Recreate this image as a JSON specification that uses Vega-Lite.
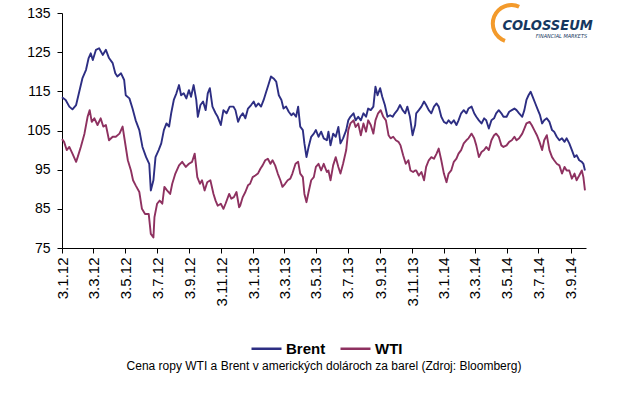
{
  "$schema": "https://vega.github.io/schema/vega-lite/v6.json",
  "width": 524,
  "height": 235,
  "autosize": {"type": "none"},
  "padding": {"left": 62, "top": 13, "right": 34, "bottom": 151},
  "background": "white",
  "config": {"view": {"stroke": null}, "font": "Liberation Sans"},
  "title": {"text": "Cena ropy WTI a Brent v amerických dolároch za barel (Zdroj: Bloomberg)", "orient": "bottom", "anchor": "middle", "frame": "group", "fontSize": 12, "fontWeight": "normal", "font": "Liberation Sans", "color": "#000000", "offset": 4},
  "datasets": {
    "prices": [
      {"series":"Brent","date":"2012-01-03","price":113.5},{"series":"Brent","date":"2012-01-10","price":112.8},{"series":"Brent","date":"2012-01-17","price":111.1},{"series":"Brent","date":"2012-01-23","price":110.4},{"series":"Brent","date":"2012-01-30","price":111.5},{"series":"Brent","date":"2012-02-05","price":114.9},{"series":"Brent","date":"2012-02-11","price":118.3},{"series":"Brent","date":"2012-02-18","price":120.5},{"series":"Brent","date":"2012-02-23","price":123.5},{"series":"Brent","date":"2012-02-27","price":124.7},{"series":"Brent","date":"2012-03-02","price":123},{"series":"Brent","date":"2012-03-08","price":125.6},{"series":"Brent","date":"2012-03-14","price":126},{"series":"Brent","date":"2012-03-21","price":124.3},{"series":"Brent","date":"2012-03-27","price":125.6},{"series":"Brent","date":"2012-04-02","price":123.5},{"series":"Brent","date":"2012-04-09","price":122.2},{"series":"Brent","date":"2012-04-14","price":119.6},{"series":"Brent","date":"2012-04-18","price":118.8},{"series":"Brent","date":"2012-04-25","price":119.6},{"series":"Brent","date":"2012-05-01","price":117.9},{"series":"Brent","date":"2012-05-04","price":114},{"series":"Brent","date":"2012-05-11","price":113.2},{"series":"Brent","date":"2012-05-17","price":110.6},{"series":"Brent","date":"2012-05-23","price":107.6},{"series":"Brent","date":"2012-05-30","price":105.1},{"series":"Brent","date":"2012-06-05","price":100.8},{"series":"Brent","date":"2012-06-12","price":98.2},{"series":"Brent","date":"2012-06-18","price":96.5},
      {"series":"Brent","date":"2012-06-21","price":89.7},{"series":"Brent","date":"2012-06-26","price":92.3},{"series":"Brent","date":"2012-06-30","price":98.2},{"series":"Brent","date":"2012-07-06","price":100},{"series":"Brent","date":"2012-07-11","price":101.7},{"series":"Brent","date":"2012-07-16","price":105.1},{"series":"Brent","date":"2012-07-21","price":106.8},{"series":"Brent","date":"2012-07-26","price":106},{"series":"Brent","date":"2012-07-30","price":109.4},{"series":"Brent","date":"2012-08-04","price":112.8},{"series":"Brent","date":"2012-08-09","price":114.5},{"series":"Brent","date":"2012-08-14","price":116.6},{"series":"Brent","date":"2012-08-18","price":114},{"series":"Brent","date":"2012-08-23","price":114.5},{"series":"Brent","date":"2012-08-28","price":113.2},{"series":"Brent","date":"2012-09-02","price":115.3},{"series":"Brent","date":"2012-09-06","price":113.6},{"series":"Brent","date":"2012-09-11","price":116.6},{"series":"Brent","date":"2012-09-16","price":112.8},{"series":"Brent","date":"2012-09-19","price":108.5},{"series":"Brent","date":"2012-09-24","price":111.5},{"series":"Brent","date":"2012-09-29","price":112.4},{"series":"Brent","date":"2012-10-04","price":110.2},{"series":"Brent","date":"2012-10-08","price":114.5},{"series":"Brent","date":"2012-10-12","price":115.8},{"series":"Brent","date":"2012-10-17","price":111.1},{"series":"Brent","date":"2012-10-23","price":109.4},{"series":"Brent","date":"2012-10-27","price":108.5},{"series":"Brent","date":"2012-11-02","price":106.4},{"series":"Brent","date":"2012-11-07","price":110.2},{"series":"Brent","date":"2012-11-13","price":109.4},{"series":"Brent","date":"2012-11-19","price":111.1},{"series":"Brent","date":"2012-11-26","price":111.1},{"series":"Brent","date":"2012-11-30","price":110.2},{"series":"Brent","date":"2012-12-05","price":107.2},
      {"series":"Brent","date":"2012-12-09","price":108.5},{"series":"Brent","date":"2012-12-14","price":109.4},{"series":"Brent","date":"2012-12-19","price":108.1},{"series":"Brent","date":"2012-12-24","price":110.6},{"series":"Brent","date":"2012-12-30","price":111.5},{"series":"Brent","date":"2013-01-04","price":112.4},{"series":"Brent","date":"2013-01-08","price":111.1},{"series":"Brent","date":"2013-01-13","price":111.9},{"series":"Brent","date":"2013-01-18","price":111.1},{"series":"Brent","date":"2013-01-23","price":112.8},{"series":"Brent","date":"2013-01-27","price":114.5},{"series":"Brent","date":"2013-02-01","price":116.6},{"series":"Brent","date":"2013-02-06","price":118.8},{"series":"Brent","date":"2013-02-11","price":118.3},{"series":"Brent","date":"2013-02-16","price":117.5},{"series":"Brent","date":"2013-02-21","price":114},{"series":"Brent","date":"2013-02-26","price":112.8},{"series":"Brent","date":"2013-03-02","price":110.6},{"series":"Brent","date":"2013-03-07","price":111.1},{"series":"Brent","date":"2013-03-12","price":109.8},{"series":"Brent","date":"2013-03-17","price":108.9},{"series":"Brent","date":"2013-03-21","price":109.4},{"series":"Brent","date":"2013-03-26","price":108.5},{"series":"Brent","date":"2013-03-30","price":111.1},{"series":"Brent","date":"2013-04-03","price":106},{"series":"Brent","date":"2013-04-08","price":105.1},{"series":"Brent","date":"2013-04-11","price":101.7},{"series":"Brent","date":"2013-04-15","price":98.2},{"series":"Brent","date":"2013-04-19","price":100.8},{"series":"Brent","date":"2013-04-24","price":103.4},{"series":"Brent","date":"2013-04-29","price":104.2},{"series":"Brent","date":"2013-05-03","price":105.1},{"series":"Brent","date":"2013-05-08","price":103.4},{"series":"Brent","date":"2013-05-13","price":104.7},{"series":"Brent","date":"2013-05-18","price":103},{"series":"Brent","date":"2013-05-24","price":102.5},
      {"series":"Brent","date":"2013-05-27","price":104.7},{"series":"Brent","date":"2013-05-31","price":101.2},{"series":"Brent","date":"2013-06-05","price":104.2},{"series":"Brent","date":"2013-06-10","price":103.4},{"series":"Brent","date":"2013-06-15","price":105.9},{"series":"Brent","date":"2013-06-19","price":101.7},{"series":"Brent","date":"2013-06-24","price":103},{"series":"Brent","date":"2013-06-30","price":105.1},{"series":"Brent","date":"2013-07-04","price":107.6},{"series":"Brent","date":"2013-07-08","price":108.5},{"series":"Brent","date":"2013-07-14","price":109.4},{"series":"Brent","date":"2013-07-18","price":107.6},{"series":"Brent","date":"2013-07-23","price":108.5},{"series":"Brent","date":"2013-07-28","price":107.6},{"series":"Brent","date":"2013-08-02","price":109.4},{"series":"Brent","date":"2013-08-07","price":108.5},{"series":"Brent","date":"2013-08-11","price":110.6},{"series":"Brent","date":"2013-08-16","price":110.2},{"series":"Brent","date":"2013-08-21","price":111.1},{"series":"Brent","date":"2013-08-25","price":116.2},{"series":"Brent","date":"2013-08-29","price":114},{"series":"Brent","date":"2013-09-03","price":115.8},{"series":"Brent","date":"2013-09-07","price":113.6},{"series":"Brent","date":"2013-09-12","price":111.5},{"series":"Brent","date":"2013-09-17","price":108.5},{"series":"Brent","date":"2013-09-22","price":108.9},{"series":"Brent","date":"2013-09-27","price":108.5},{"series":"Brent","date":"2013-10-01","price":109.4},{"series":"Brent","date":"2013-10-06","price":110.2},{"series":"Brent","date":"2013-10-11","price":111.5},{"series":"Brent","date":"2013-10-16","price":110.2},{"series":"Brent","date":"2013-10-21","price":109.4},{"series":"Brent","date":"2013-10-25","price":111.1},{"series":"Brent","date":"2013-10-30","price":108.5},{"series":"Brent","date":"2013-11-04","price":103.8},{"series":"Brent","date":"2013-11-09","price":106.4},
      {"series":"Brent","date":"2013-11-11","price":109.4},{"series":"Brent","date":"2013-11-16","price":110.2},{"series":"Brent","date":"2013-11-21","price":111.1},{"series":"Brent","date":"2013-11-26","price":112.4},{"series":"Brent","date":"2013-11-30","price":111.5},{"series":"Brent","date":"2013-12-05","price":110.2},{"series":"Brent","date":"2013-12-10","price":109.4},{"series":"Brent","date":"2013-12-15","price":111.1},{"series":"Brent","date":"2013-12-20","price":111.9},{"series":"Brent","date":"2013-12-24","price":111.1},{"series":"Brent","date":"2013-12-29","price":108.5},{"series":"Brent","date":"2014-01-03","price":107.2},{"series":"Brent","date":"2014-01-08","price":106.8},{"series":"Brent","date":"2014-01-12","price":107.6},{"series":"Brent","date":"2014-01-17","price":106.8},{"series":"Brent","date":"2014-01-22","price":107.6},{"series":"Brent","date":"2014-01-27","price":106.4},{"series":"Brent","date":"2014-01-31","price":107.6},{"series":"Brent","date":"2014-02-05","price":109.4},{"series":"Brent","date":"2014-02-10","price":110.2},{"series":"Brent","date":"2014-02-15","price":109.4},{"series":"Brent","date":"2014-02-19","price":110.6},{"series":"Brent","date":"2014-02-25","price":111.1},{"series":"Brent","date":"2014-03-02","price":109.4},{"series":"Brent","date":"2014-03-06","price":108.5},{"series":"Brent","date":"2014-03-11","price":107.6},{"series":"Brent","date":"2014-03-16","price":106.8},{"series":"Brent","date":"2014-03-21","price":108.1},{"series":"Brent","date":"2014-03-25","price":107.6},{"series":"Brent","date":"2014-03-30","price":105.5},{"series":"Brent","date":"2014-04-04","price":107.6},{"series":"Brent","date":"2014-04-09","price":108.1},{"series":"Brent","date":"2014-04-13","price":109.4},{"series":"Brent","date":"2014-04-18","price":110.2},{"series":"Brent","date":"2014-04-23","price":109.4},{"series":"Brent","date":"2014-04-27","price":108.5},
      {"series":"Brent","date":"2014-05-03","price":108.5},{"series":"Brent","date":"2014-05-08","price":109.8},{"series":"Brent","date":"2014-05-13","price":110.2},{"series":"Brent","date":"2014-05-18","price":110.6},{"series":"Brent","date":"2014-05-22","price":110.2},{"series":"Brent","date":"2014-05-27","price":109.4},{"series":"Brent","date":"2014-06-02","price":108.5},{"series":"Brent","date":"2014-06-06","price":110.2},{"series":"Brent","date":"2014-06-10","price":112.8},{"series":"Brent","date":"2014-06-14","price":114},{"series":"Brent","date":"2014-06-18","price":114.9},{"series":"Brent","date":"2014-06-22","price":113.6},{"series":"Brent","date":"2014-06-27","price":111.9},{"series":"Brent","date":"2014-07-02","price":110.2},{"series":"Brent","date":"2014-07-06","price":108.9},{"series":"Brent","date":"2014-07-10","price":106.8},{"series":"Brent","date":"2014-07-14","price":107.6},{"series":"Brent","date":"2014-07-19","price":108.1},{"series":"Brent","date":"2014-07-24","price":107.2},{"series":"Brent","date":"2014-07-29","price":105.1},{"series":"Brent","date":"2014-08-02","price":104.7},{"series":"Brent","date":"2014-08-07","price":103.4},{"series":"Brent","date":"2014-08-12","price":102.5},{"series":"Brent","date":"2014-08-17","price":103},{"series":"Brent","date":"2014-08-22","price":102.1},{"series":"Brent","date":"2014-08-26","price":103},{"series":"Brent","date":"2014-08-31","price":101.7},{"series":"Brent","date":"2014-09-05","price":100},{"series":"Brent","date":"2014-09-10","price":98.2},{"series":"Brent","date":"2014-09-14","price":98.7},{"series":"Brent","date":"2014-09-19","price":97.4},{"series":"Brent","date":"2014-09-24","price":97},{"series":"Brent","date":"2014-09-27","price":96.5},{"series":"Brent","date":"2014-09-30","price":94.8},
      {"series":"WTI","date":"2012-01-03","price":102.8},{"series":"WTI","date":"2012-01-07","price":102.1},{"series":"WTI","date":"2012-01-12","price":100},{"series":"WTI","date":"2012-01-17","price":100.8},{"series":"WTI","date":"2012-01-23","price":99.1},{"series":"WTI","date":"2012-01-30","price":97},{"series":"WTI","date":"2012-02-02","price":98.2},{"series":"WTI","date":"2012-02-08","price":100.8},{"series":"WTI","date":"2012-02-15","price":104.2},{"series":"WTI","date":"2012-02-21","price":108.5},{"series":"WTI","date":"2012-02-25","price":110.2},{"series":"WTI","date":"2012-02-29","price":107.2},{"series":"WTI","date":"2012-03-05","price":108.1},{"series":"WTI","date":"2012-03-11","price":106.4},{"series":"WTI","date":"2012-03-17","price":108.1},{"series":"WTI","date":"2012-03-22","price":106},{"series":"WTI","date":"2012-03-27","price":106.4},{"series":"WTI","date":"2012-04-02","price":102.5},{"series":"WTI","date":"2012-04-09","price":103.4},{"series":"WTI","date":"2012-04-15","price":103.4},{"series":"WTI","date":"2012-04-22","price":104.2},{"series":"WTI","date":"2012-04-28","price":106},{"series":"WTI","date":"2012-05-01","price":103.4},{"series":"WTI","date":"2012-05-08","price":97.4},{"series":"WTI","date":"2012-05-14","price":94.8},{"series":"WTI","date":"2012-05-18","price":92.3},{"series":"WTI","date":"2012-05-23","price":91},{"series":"WTI","date":"2012-05-30","price":89.3},{"series":"WTI","date":"2012-06-04","price":85},{"series":"WTI","date":"2012-06-10","price":83.7},{"series":"WTI","date":"2012-06-17","price":83.7},{"series":"WTI","date":"2012-06-21","price":78.6},
      {"series":"WTI","date":"2012-06-26","price":77.7},{"series":"WTI","date":"2012-06-28","price":82.9},{"series":"WTI","date":"2012-07-03","price":86.3},{"series":"WTI","date":"2012-07-08","price":87.1},{"series":"WTI","date":"2012-07-13","price":86.3},{"series":"WTI","date":"2012-07-17","price":90.6},{"series":"WTI","date":"2012-07-22","price":89.7},{"series":"WTI","date":"2012-07-28","price":88.8},{"series":"WTI","date":"2012-08-01","price":91.4},{"series":"WTI","date":"2012-08-07","price":94},{"series":"WTI","date":"2012-08-14","price":96.1},{"series":"WTI","date":"2012-08-20","price":97},{"series":"WTI","date":"2012-08-27","price":95.7},{"series":"WTI","date":"2012-09-02","price":96.5},{"series":"WTI","date":"2012-09-08","price":97},{"series":"WTI","date":"2012-09-13","price":99.1},{"series":"WTI","date":"2012-09-18","price":93.1},{"series":"WTI","date":"2012-09-23","price":91.4},{"series":"WTI","date":"2012-09-27","price":92.3},{"series":"WTI","date":"2012-10-02","price":89.7},{"series":"WTI","date":"2012-10-07","price":91.8},{"series":"WTI","date":"2012-10-13","price":92.3},{"series":"WTI","date":"2012-10-19","price":88.8},{"series":"WTI","date":"2012-10-23","price":87.1},{"series":"WTI","date":"2012-10-27","price":85.8},{"series":"WTI","date":"2012-11-02","price":86.3},{"series":"WTI","date":"2012-11-07","price":85},{"series":"WTI","date":"2012-11-11","price":86.3},{"series":"WTI","date":"2012-11-18","price":88.8},{"series":"WTI","date":"2012-11-22","price":87.6},{"series":"WTI","date":"2012-11-27","price":88},{"series":"WTI","date":"2012-12-02","price":89.3},{"series":"WTI","date":"2012-12-07","price":85.4},
      {"series":"WTI","date":"2012-12-09","price":85.8},{"series":"WTI","date":"2012-12-14","price":88},{"series":"WTI","date":"2012-12-19","price":89.3},{"series":"WTI","date":"2012-12-24","price":91},{"series":"WTI","date":"2012-12-28","price":91.4},{"series":"WTI","date":"2013-01-02","price":93.1},{"series":"WTI","date":"2013-01-07","price":93.5},{"series":"WTI","date":"2013-01-12","price":94},{"series":"WTI","date":"2013-01-17","price":95.3},{"series":"WTI","date":"2013-01-21","price":96.1},{"series":"WTI","date":"2013-01-26","price":97.4},{"series":"WTI","date":"2013-01-31","price":97.8},{"series":"WTI","date":"2013-02-05","price":96.5},{"series":"WTI","date":"2013-02-09","price":97.4},{"series":"WTI","date":"2013-02-14","price":96.1},{"series":"WTI","date":"2013-02-19","price":94},{"series":"WTI","date":"2013-02-24","price":92.3},{"series":"WTI","date":"2013-02-28","price":90.6},{"series":"WTI","date":"2013-03-05","price":91.4},{"series":"WTI","date":"2013-03-10","price":92.3},{"series":"WTI","date":"2013-03-15","price":92.7},{"series":"WTI","date":"2013-03-19","price":94},{"series":"WTI","date":"2013-03-25","price":96.5},{"series":"WTI","date":"2013-03-30","price":97},{"series":"WTI","date":"2013-04-03","price":94},{"series":"WTI","date":"2013-04-08","price":93.1},{"series":"WTI","date":"2013-04-11","price":88.8},{"series":"WTI","date":"2013-04-15","price":86.7},{"series":"WTI","date":"2013-04-19","price":89.3},{"series":"WTI","date":"2013-04-24","price":92.3},{"series":"WTI","date":"2013-04-29","price":93.1},{"series":"WTI","date":"2013-05-03","price":95.7},{"series":"WTI","date":"2013-05-08","price":96.5},{"series":"WTI","date":"2013-05-13","price":94.8},{"series":"WTI","date":"2013-05-18","price":96.5},{"series":"WTI","date":"2013-05-24","price":94.4},
      {"series":"WTI","date":"2013-05-27","price":94.8},{"series":"WTI","date":"2013-05-31","price":92.3},{"series":"WTI","date":"2013-06-05","price":96.1},{"series":"WTI","date":"2013-06-10","price":98.2},{"series":"WTI","date":"2013-06-15","price":95.7},{"series":"WTI","date":"2013-06-19","price":94},{"series":"WTI","date":"2013-06-24","price":96.5},{"series":"WTI","date":"2013-06-30","price":100},{"series":"WTI","date":"2013-07-04","price":105.1},{"series":"WTI","date":"2013-07-08","price":106.8},{"series":"WTI","date":"2013-07-14","price":107.6},{"series":"WTI","date":"2013-07-18","price":105.9},{"series":"WTI","date":"2013-07-23","price":106.8},{"series":"WTI","date":"2013-07-28","price":103.8},{"series":"WTI","date":"2013-08-02","price":106.8},{"series":"WTI","date":"2013-08-07","price":104.7},{"series":"WTI","date":"2013-08-11","price":107.6},{"series":"WTI","date":"2013-08-16","price":106.4},{"series":"WTI","date":"2013-08-21","price":104.2},{"series":"WTI","date":"2013-08-25","price":107.6},{"series":"WTI","date":"2013-08-30","price":109.4},{"series":"WTI","date":"2013-09-04","price":110.2},{"series":"WTI","date":"2013-09-09","price":108.5},{"series":"WTI","date":"2013-09-14","price":107.6},{"series":"WTI","date":"2013-09-19","price":103.8},{"series":"WTI","date":"2013-09-23","price":103},{"series":"WTI","date":"2013-09-28","price":103.4},{"series":"WTI","date":"2013-10-03","price":102.5},{"series":"WTI","date":"2013-10-08","price":102.1},{"series":"WTI","date":"2013-10-12","price":101.2},{"series":"WTI","date":"2013-10-17","price":98.7},{"series":"WTI","date":"2013-10-22","price":96.5},{"series":"WTI","date":"2013-10-27","price":97.4},{"series":"WTI","date":"2013-10-31","price":94.8},{"series":"WTI","date":"2013-11-05","price":94.4},{"series":"WTI","date":"2013-11-09","price":94.8},
      {"series":"WTI","date":"2013-11-11","price":94.8},{"series":"WTI","date":"2013-11-16","price":93.5},{"series":"WTI","date":"2013-11-21","price":94.4},{"series":"WTI","date":"2013-11-26","price":92.3},{"series":"WTI","date":"2013-11-30","price":95.7},{"series":"WTI","date":"2013-12-05","price":97.4},{"series":"WTI","date":"2013-12-10","price":98.2},{"series":"WTI","date":"2013-12-15","price":97.8},{"series":"WTI","date":"2013-12-20","price":99.1},{"series":"WTI","date":"2013-12-24","price":100.4},{"series":"WTI","date":"2013-12-29","price":97.4},{"series":"WTI","date":"2014-01-03","price":94},{"series":"WTI","date":"2014-01-08","price":91.8},{"series":"WTI","date":"2014-01-12","price":94},{"series":"WTI","date":"2014-01-17","price":94.8},{"series":"WTI","date":"2014-01-22","price":97},{"series":"WTI","date":"2014-01-27","price":97.8},{"series":"WTI","date":"2014-01-31","price":99.1},{"series":"WTI","date":"2014-02-05","price":100},{"series":"WTI","date":"2014-02-10","price":101.7},{"series":"WTI","date":"2014-02-15","price":102.5},{"series":"WTI","date":"2014-02-19","price":103},{"series":"WTI","date":"2014-02-25","price":104.2},{"series":"WTI","date":"2014-03-02","price":103},{"series":"WTI","date":"2014-03-06","price":101.2},{"series":"WTI","date":"2014-03-11","price":98.2},{"series":"WTI","date":"2014-03-16","price":99.5},{"series":"WTI","date":"2014-03-21","price":100},{"series":"WTI","date":"2014-03-25","price":100.8},{"series":"WTI","date":"2014-03-30","price":100},{"series":"WTI","date":"2014-04-04","price":102.5},{"series":"WTI","date":"2014-04-09","price":103.8},{"series":"WTI","date":"2014-04-13","price":104.2},{"series":"WTI","date":"2014-04-18","price":103.4},{"series":"WTI","date":"2014-04-23","price":101.2},{"series":"WTI","date":"2014-04-27","price":100.8},
      {"series":"WTI","date":"2014-05-03","price":101.2},{"series":"WTI","date":"2014-05-08","price":102.1},{"series":"WTI","date":"2014-05-13","price":102.5},{"series":"WTI","date":"2014-05-18","price":103.4},{"series":"WTI","date":"2014-05-22","price":102.5},{"series":"WTI","date":"2014-05-27","price":103},{"series":"WTI","date":"2014-06-02","price":104.2},{"series":"WTI","date":"2014-06-06","price":105.5},{"series":"WTI","date":"2014-06-10","price":106.8},{"series":"WTI","date":"2014-06-16","price":107.2},{"series":"WTI","date":"2014-06-20","price":106.4},{"series":"WTI","date":"2014-06-25","price":105.1},{"series":"WTI","date":"2014-06-30","price":103.8},{"series":"WTI","date":"2014-07-05","price":102.1},{"series":"WTI","date":"2014-07-10","price":100},{"series":"WTI","date":"2014-07-14","price":102.5},{"series":"WTI","date":"2014-07-19","price":103.8},{"series":"WTI","date":"2014-07-24","price":100},{"series":"WTI","date":"2014-07-29","price":98.2},{"series":"WTI","date":"2014-08-02","price":97.4},{"series":"WTI","date":"2014-08-07","price":96.5},{"series":"WTI","date":"2014-08-12","price":96.1},{"series":"WTI","date":"2014-08-17","price":94},{"series":"WTI","date":"2014-08-22","price":95.7},{"series":"WTI","date":"2014-08-26","price":94.8},{"series":"WTI","date":"2014-08-31","price":94.8},{"series":"WTI","date":"2014-09-05","price":92.7},{"series":"WTI","date":"2014-09-10","price":94},{"series":"WTI","date":"2014-09-14","price":92.3},{"series":"WTI","date":"2014-09-19","price":93.5},{"series":"WTI","date":"2014-09-24","price":94.8},{"series":"WTI","date":"2014-09-27","price":93.1},{"series":"WTI","date":"2014-09-30","price":89.7}
    ]
  },
  "layer": [
    {
      "data": {"name": "prices"},
      "mark": {"type": "line", "strokeWidth": 1.9, "strokeJoin": "round"},
      "encoding": {
        "x": {
          "field": "date", "type": "temporal",
          "scale": {"domain": [{"year": 2012, "month": "jan", "date": 3}, {"year": 2014, "month": "oct", "date": 2}]},
          "axis": {
            "values": [
              {"year": 2012, "month": "jan", "date": 3}, {"year": 2012, "month": "mar", "date": 3}, {"year": 2012, "month": "may", "date": 3}, {"year": 2012, "month": "jul", "date": 3}, {"year": 2012, "month": "sep", "date": 3}, {"year": 2012, "month": "nov", "date": 3},
              {"year": 2013, "month": "jan", "date": 3}, {"year": 2013, "month": "mar", "date": 3}, {"year": 2013, "month": "may", "date": 3}, {"year": 2013, "month": "jul", "date": 3}, {"year": 2013, "month": "sep", "date": 3}, {"year": 2013, "month": "nov", "date": 3},
              {"year": 2014, "month": "jan", "date": 3}, {"year": 2014, "month": "mar", "date": 3}, {"year": 2014, "month": "may", "date": 3}, {"year": 2014, "month": "jul", "date": 3}, {"year": 2014, "month": "sep", "date": 3}
            ],
            "tickCount": 40,
            "format": "%-d.%-m.%y",
            "labelAngle": -90,
            "labelFontSize": 15,
            "labelFont": "Liberation Sans",
            "labelColor": "#000000",
            "labelPadding": 4,
            "labelFlush": false,
            "labelOverlap": false,
            "labelBound": false,
            "tickSize": 5,
            "tickColor": "#000000",
            "domainColor": "#000000",
            "grid": false,
            "title": null
          }
        },
        "y": {
          "field": "price", "type": "quantitative",
          "scale": {"domain": [75, 135], "nice": false, "zero": false},
          "axis": {
            "values": [75, 85, 95, 105, 115, 125, 135],
            "tickCount": 20,
            "labelOverlap": false,
            "labelFontSize": 14,
            "labelFont": "Liberation Sans",
            "labelColor": "#000000",
            "labelPadding": 7,
            "tickSize": 5,
            "tickColor": "#000000",
            "domainColor": "#000000",
            "grid": false,
            "title": null
          }
        },
        "color": {
          "field": "series", "type": "nominal",
          "scale": {"domain": ["Brent", "WTI"], "range": ["#2D2E83", "#8E3160"]},
          "legend": {
            "orient": "none",
            "legendX": 188,
            "legendY": 319,
            "direction": "horizontal",
            "title": null,
            "symbolType": "stroke",
            "symbolSize": 900,
            "symbolStrokeWidth": 2.5,
            "labelFontSize": 15,
            "labelFont": "Liberation Sans",
            "labelFontWeight": "bold",
            "labelColor": "#000000",
            "labelOffset": 3,
            "columnPadding": 9
          }
        }
      }
    },
    {
      "data": {"values": [{"logo": "swoosh"}]},
      "mark": {"type": "arc", "innerRadius": 16.5, "outerRadius": 20.5, "theta": 3.49, "theta2": 6.72, "color": "#F39A2B"},
      "encoding": {
        "x": {"datum": {"year": 2014, "month": "may", "date": 12}, "type": "temporal"},
        "y": {"datum": 132.3, "type": "quantitative"}
      }
    },
    {
      "data": {"values": [{"label": "COLOSSEUM"}]},
      "mark": {"type": "text", "align": "left", "baseline": "alphabetic", "font": "DejaVu Sans Condensed, Liberation Sans", "fontStyle": "italic", "fontWeight": "bold", "fontSize": 14.5, "color": "#163760"},
      "encoding": {
        "x": {"datum": {"year": 2014, "month": "apr", "date": 25}, "type": "temporal"},
        "y": {"datum": 130.7, "type": "quantitative"},
        "text": {"field": "label"}
      }
    },
    {
      "data": {"values": [{"label": "FINANCIAL MARKETS"}]},
      "mark": {"type": "text", "align": "right", "baseline": "alphabetic", "font": "DejaVu Sans Condensed, Liberation Sans", "fontStyle": "italic", "fontSize": 5.5, "color": "#163760"},
      "encoding": {
        "x": {"datum": {"year": 2014, "month": "oct", "date": 4}, "type": "temporal"},
        "y": {"datum": 128.7, "type": "quantitative"},
        "text": {"field": "label"}
      }
    }
  ]
}
